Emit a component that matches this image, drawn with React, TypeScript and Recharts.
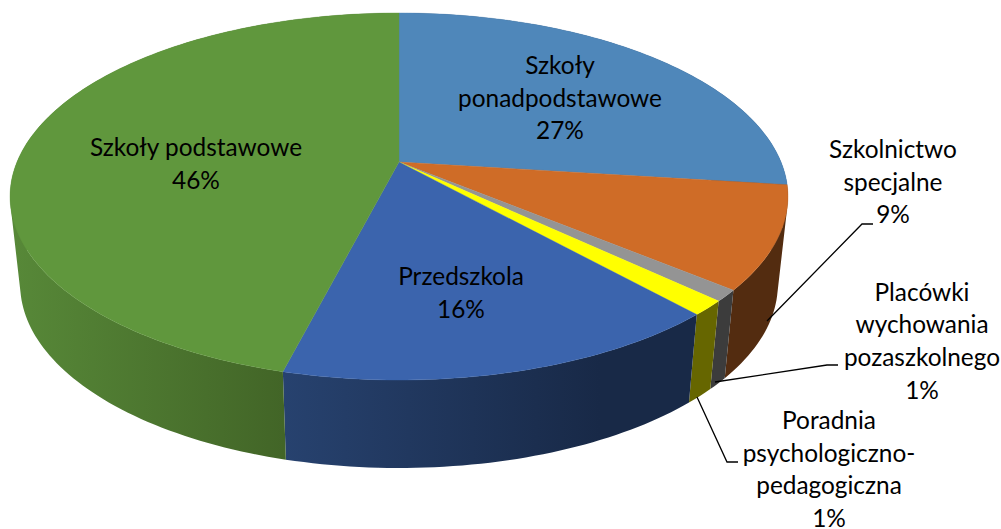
import React from 'react';
import { PieChart, Pie, Cell } from 'recharts';

const names = ['Szkoły ponadpodstawowe', 'Szkolnictwo specjalne', 'Placówki wychowania pozaszkolnego', 'Poradnia psychologiczno-pedagogiczna', 'Przedszkola', 'Szkoły podstawowe'];
const values = [27.0, 9.0, 1.0, 1.3, 15.7, 46.0];
const percentLabels = ['27%', '9%', '1%', '1%', '16%', '46%'];
const labelLines = [
  ['Szkoły', 'ponadpodstawowe'],
  ['Szkolnictwo', 'specjalne'],
  ['Placówki', 'wychowania', 'pozaszkolnego'],
  ['Poradnia', 'psychologiczno-', 'pedagogiczna'],
  ['Przedszkola'],
  ['Szkoły podstawowe'],
];
const topColors = ['#4f87ba', '#cf6c27', '#949494', '#ffff00', '#3b64ad', '#60973d'];
const sideFills = ['#2b4f70', '#532c10', '#3c3c3c', '#666600', 'url(#sideBlue)', 'url(#sideGreen)'];

const labelLayout = [
  { x: 560, y: 74 },
  { x: 893, y: 158 },
  { x: 922, y: 300.5 },
  { x: 829, y: 429 },
  { x: 461, y: 285 },
  { x: 196, y: 156 },
];
const leaders: Record<number, string> = {
  1: '767,321 862,224 873,224',
  2: '715,382 827,365 838,365',
  3: '697,397 727,462 738,462',
};

const table = names.map((name, i) => ({ name, value: values[i] }));

const CX = 399;
const CY = 162;
const R = 382;
const K = -0.188;
const BY = 0.4634;
const DEPTH_Y = 88;
const DEPTH_X = 0.974;
const LINE = 32.7;
const FONT = 'Lato, Carlito, sans-serif';

function project(cx: number, cy: number, r: number, angle: number, bottom: boolean) {
  const phi = ((90 - angle) * Math.PI) / 180;
  const u = Math.sin(phi);
  const v = -Math.cos(phi);
  const d = 1 + K * v;
  const sx = bottom ? DEPTH_X : 1;
  return {
    x: cx + (r * sx * u) / d,
    y: cy + (bottom ? DEPTH_Y : 0) + (r * BY * v) / d,
  };
}

function samples(a0: number, a1: number) {
  const n = Math.max(2, Math.ceil(Math.abs(a1 - a0) / 1.2));
  const out: number[] = [];
  for (let i = 0; i <= n; i++) out.push(a0 + ((a1 - a0) * i) / n);
  return out;
}

function TopFace(p: any) {
  const pts = samples(p.startAngle, p.endAngle).map((a) => project(p.cx, p.cy, p.outerRadius, a, false));
  const d = `M${p.cx},${p.cy} ` + pts.map((q) => `L${q.x.toFixed(2)},${q.y.toFixed(2)}`).join(' ') + ' Z';
  return <path d={d} fill={p.fill} stroke={p.fill} strokeWidth={0.4} />;
}

function SideFace(p: any) {
  const as = samples(p.startAngle, p.endAngle);
  let d = '';
  for (let i = 0; i < as.length - 1; i++) {
    const t0 = project(p.cx, p.cy, p.outerRadius, as[i], false);
    const t1 = project(p.cx, p.cy, p.outerRadius, as[i + 1], false);
    const b1 = project(p.cx, p.cy, p.outerRadius, as[i + 1], true);
    const b0 = project(p.cx, p.cy, p.outerRadius, as[i], true);
    let q = [t0, t1, b1, b0];
    let area = 0;
    q.forEach((c, j) => {
      const e = q[(j + 1) % 4];
      area += c.x * e.y - e.x * c.y;
    });
    if (area < 0) q = q.reverse();
    d += 'M' + q.map((c) => `${c.x.toFixed(2)},${c.y.toFixed(2)}`).join(' L') + ' Z ';
  }
  return <path d={d} fill={p.fill} />;
}

function renderLabel(p: any) {
  const i = p.index as number;
  const pos = labelLayout[i];
  const lines = [...labelLines[i], percentLabels[i]];
  return (
    <g key={i}>
      {leaders[i] ? <polyline points={leaders[i]} fill="none" stroke="#000" strokeWidth={1.3} /> : null}
      <text x={pos.x} y={pos.y} textAnchor="middle" fontFamily={FONT} fontSize={24.4} fill="#000">
        {lines.map((t, j) => (
          <tspan key={j} x={pos.x} y={pos.y + j * LINE}>
            {t}
          </tspan>
        ))}
      </text>
    </g>
  );
}

export default function App() {
  return (
    <div style={{ position: 'absolute', left: 0, top: 0, width: 1001, height: 529 }}>
      <PieChart width={1001} height={529} margin={{ top: 0, right: 0, bottom: 0, left: 0 }}>
        <defs>
          <linearGradient id="sideBlue" gradientUnits="userSpaceOnUse" x1={282} y1={0} x2={600} y2={0}>
            <stop offset="0%" stopColor="#27426f" />
            <stop offset="100%" stopColor="#182947" />
          </linearGradient>
          <linearGradient id="sideGreen" gradientUnits="userSpaceOnUse" x1={15} y1={0} x2={284} y2={0}>
            <stop offset="0%" stopColor="#578838" />
            <stop offset="100%" stopColor="#426527" />
          </linearGradient>
        </defs>
        <Pie
          data={table}
          dataKey="value"
          nameKey="name"
          cx={CX}
          cy={CY}
          outerRadius={R}
          startAngle={90}
          endAngle={-270}
          paddingAngle={0}
          stroke="none"
          label={false}
          labelLine={false}
          shape={SideFace}
          isAnimationActive={false}
        >
          {table.map((_, i) => (
            <Cell key={i} fill={sideFills[i]} />
          ))}
        </Pie>
        <Pie
          data={table}
          dataKey="value"
          nameKey="name"
          cx={CX}
          cy={CY}
          outerRadius={R}
          startAngle={90}
          endAngle={-270}
          paddingAngle={0}
          stroke="none"
          label={renderLabel}
          labelLine={false}
          shape={TopFace}
          isAnimationActive={false}
        >
          {table.map((_, i) => (
            <Cell key={i} fill={topColors[i]} />
          ))}
        </Pie>
      </PieChart>
    </div>
  );
}
